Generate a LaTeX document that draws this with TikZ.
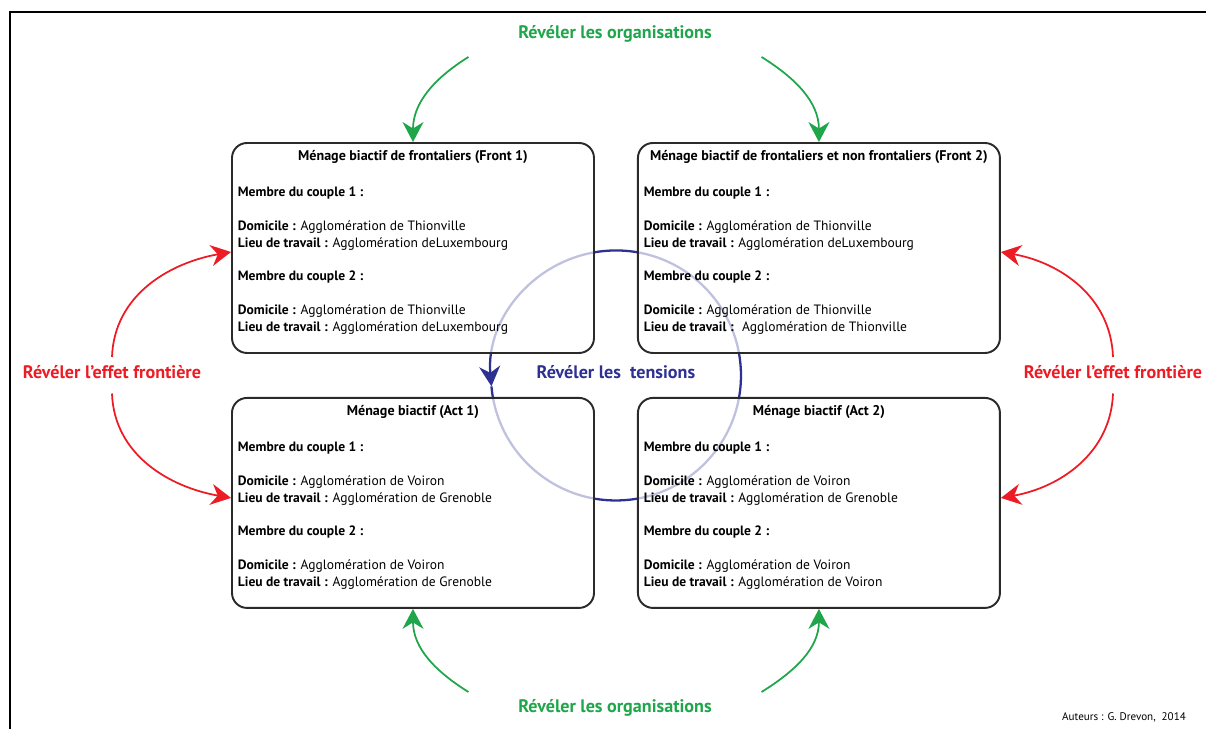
\documentclass[tikz,border=0pt]{standalone}
\usepackage{fontspec}
\setmainfont{PT Sans}
\usetikzlibrary{arrows.meta,positioning,calc,backgrounds}
\definecolor{orgagreen}{HTML}{1FA64B}
\definecolor{fronred}{HTML}{ED1C24}
\definecolor{tensblue}{HTML}{2E3192}
\definecolor{boxgray}{HTML}{2B2A29}

\begin{document}
\begin{tikzpicture}[line width=1pt,>={Stealth[length=4mm,width=4.2mm]}]
\tikzset{menage/.style={draw=boxgray,line width=1.1pt,rounded corners=0.3cm,fill=white,
    fill opacity=0.7,minimum width=7.24cm,minimum height=4.2cm,inner sep=0},
  boxtitle/.style={font=\fontsize{8}{9.6}\selectfont\bfseries,inner sep=0},
  boxtext/.style={font=\fontsize{7.7}{9.6}\selectfont,align=left,anchor=north west,inner sep=0},
  revel/.style={font=\fontsize{10.3}{12}\selectfont\bfseries,inner sep=0},
  orga/.style={orgagreen,->},
  front/.style={fronred,->}}
\useasboundingbox (0,0) rectangle (24.12,14.58);
% ---------- frame ----------
\draw[line width=1.1pt] (0.2,0) -- (0.2,14.34) -- (24.12,14.34);
% ---------- the four households ----------
\node[menage] (tl) at (8.26,9.62) {};
\node[menage,right=0.84cm of tl] (tr) {};
\node[menage,below=0.86cm of tl] (bl) {};
\node[menage,right=0.84cm of bl] (br) {};
\node[boxtitle] (tlt) at ([yshift=-0.3cm]tl.north) {Ménage biactif de frontaliers (Front 1)};
\node[boxtitle] (trt) at ([yshift=-0.3cm]tr.north) {Ménage biactif de frontaliers et non frontaliers (Front 2)};
\node[boxtitle] (blt) at ([yshift=-0.3cm]bl.north) {Ménage biactif (Act 1)};
\node[boxtitle] (brt) at ([yshift=-0.3cm]br.north) {Ménage biactif (Act 2)};
\node[boxtext] (tlx) at ([xshift=0.12cm,yshift=-0.88cm]tl.north west) {\textbf{Membre du couple 1 :}\\[9.6pt]
  \textbf{Domicile :} Agglomération de Thionville\\
  \textbf{Lieu de travail :} Agglomération deLuxembourg\\[9.6pt]
  \textbf{Membre du couple 2 :}\\[9.6pt]
  \textbf{Domicile :} Agglomération de Thionville\\
  \textbf{Lieu de travail :} Agglomération deLuxembourg};
\node[boxtext] (trx) at ([xshift=0.12cm,yshift=-0.88cm]tr.north west) {\textbf{Membre du couple 1 :}\\[9.6pt]
  \textbf{Domicile :} Agglomération de Thionville\\
  \textbf{Lieu de travail :} Agglomération deLuxembourg\\[9.6pt]
  \textbf{Membre du couple 2 :}\\[9.6pt]
  \textbf{Domicile :} Agglomération de Thionville\\
  \textbf{Lieu de travail :}~ Agglomération de Thionville};
\node[boxtext] (blx) at ([xshift=0.12cm,yshift=-0.88cm]bl.north west) {\textbf{Membre du couple 1 :}\\[9.6pt]
  \textbf{Domicile :} Agglomération de Voiron\\
  \textbf{Lieu de travail :} Agglomération de Grenoble\\[9.6pt]
  \textbf{Membre du couple 2 :}\\[9.6pt]
  \textbf{Domicile :} Agglomération de Voiron\\
  \textbf{Lieu de travail :} Agglomération de Grenoble};
\node[boxtext] (brx) at ([xshift=0.12cm,yshift=-0.88cm]br.north west) {\textbf{Membre du couple 1 :}\\[9.6pt]
  \textbf{Domicile :} Agglomération de Voiron\\
  \textbf{Lieu de travail :} Agglomération de Grenoble\\[9.6pt]
  \textbf{Membre du couple 2 :}\\[9.6pt]
  \textbf{Domicile :} Agglomération de Voiron\\
  \textbf{Lieu de travail :} Agglomération de Voiron};
% ---------- tensions (circle under the boxes) ----------
\coordinate (mid) at ($(tl.south east)!0.5!(br.north west)$);
\begin{scope}[on background layer]
  \draw[tensblue,line width=1.3pt,->] ($(mid)+(-175:2.5)$) arc[start angle=-175,end angle=185,radius=2.5];
\end{scope}
\node[revel,tensblue] (tens) at ([yshift=0.06cm]mid) {Révéler les~ tensions};
% ---------- organisations ----------
\node[revel,orgagreen] (orgtop) at (12.3,13.9) {Révéler les organisations};
\node[revel,orgagreen] (orgbot) at (12.3,0.42) {Révéler les organisations};
\coordinate (otl) at ($(orgtop.west)+(-0.98,-0.46)$);
\coordinate (otr) at ($(orgtop.east)+(0.98,-0.46)$);
\coordinate (obl) at ($(orgbot.west)+(-0.98,0.32)$);
\coordinate (obr) at ($(orgbot.east)+(0.98,0.32)$);
\draw[orga] (otl) to[out=212,in=90] (tl.north);
\draw[orga] (otr) to[out=-32,in=90] (tr.north);
\draw[orga] (obl) to[out=148,in=-90] (bl.south);
\draw[orga] (obr) to[out=32,in=-90] (br.south);
% ---------- effet frontiere ----------
\node[revel,fronred] (frl) at (2.24,7.14) {Révéler l’effet frontière};
\node[revel,fronred] (frr) at (22.26,7.14) {Révéler l’effet frontière};
\draw[front] ([yshift=0.15cm]frl.north) to[out=88,in=190] ([yshift=-0.08cm]tl.west);
\draw[front] ([yshift=-0.28cm]frl.south) to[out=-88,in=170] ([yshift=0.1cm]bl.west);
\draw[front] ([yshift=0.15cm]frr.north) to[out=92,in=-10] ([yshift=-0.08cm]tr.west -| tr.east);
\draw[front] ([yshift=-0.28cm]frr.south) to[out=-92,in=10] ([yshift=0.1cm]br.west -| br.east);
% ---------- source ----------
\node[font=\fontsize{6.3}{7.5}\selectfont,inner sep=0] (auteurs) at (22.48,0.24) {Auteurs : G. Drevon,~ 2014};
\end{tikzpicture}
\end{document}
